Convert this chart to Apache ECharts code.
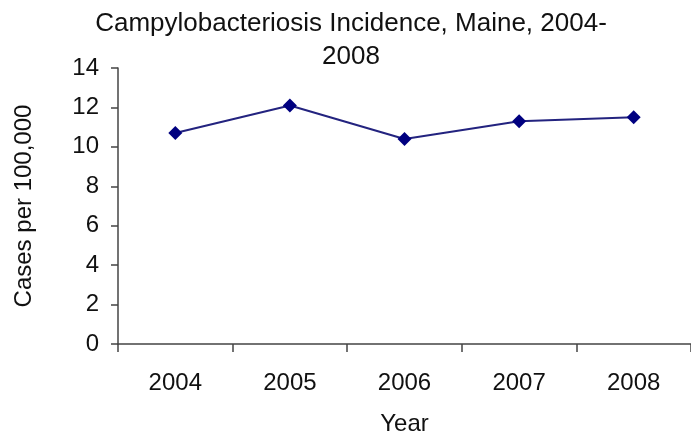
<!DOCTYPE html>
<html>
<head>
<meta charset="utf-8">
<script src="https://cdn.jsdelivr.net/npm/echarts@6/dist/echarts.min.js"></script>
<style>
html,body{margin:0;padding:0;background:#fff;}
#chart{width:691px;height:441px;}
</style>
</head>
<body>
<div id="chart"></div>
<script>
const titleText = 'Campylobacteriosis Incidence, Maine, 2004-\n2008';
const years = ['2004', '2005', '2006', '2007', '2008'];
const incidence = [10.7, 12.1, 10.4, 11.3, 11.5];
const yTicks = { min: 0, max: 14, interval: 2 };
const xName = 'Year';
const yName = 'Cases per 100,000';

const FONT = '"Liberation Sans", Arial, sans-serif';
const chart = echarts.init(document.getElementById('chart'), null, { renderer: 'canvas' });
chart.setOption({
  backgroundColor: '#ffffff',
  animation: false,
  title: {
    text: titleText,
    left: 346,
    top: 2,
    textAlign: 'center',
    textStyle: { fontFamily: FONT, fontSize: 26, fontWeight: 'normal', color: '#111', lineHeight: 33 }
  },
  grid: { left: 118, right: -9, top: 68, bottom: 90, containLabel: false },
  xAxis: {
    type: 'category',
    data: years,
    boundaryGap: true,
    name: xName,
    nameLocation: 'middle',
    nameGap: 68,
    nameTextStyle: { fontFamily: FONT, fontSize: 24, color: '#111' },
    axisLine: { show: true, lineStyle: { color: '#444', width: 1.5 } },
    axisTick: { show: true, length: 8, inside: false, lineStyle: { color: '#444', width: 1.5 } },
    axisLabel: { fontFamily: FONT, fontSize: 24, color: '#111', margin: 27 },
    splitLine: { show: false }
  },
  yAxis: {
    type: 'value',
    min: yTicks.min,
    max: yTicks.max,
    interval: yTicks.interval,
    name: yName,
    nameLocation: 'middle',
    nameGap: 82,
    nameRotate: 90,
    nameTextStyle: { fontFamily: FONT, fontSize: 24, color: '#111' },
    axisLine: { show: true, lineStyle: { color: '#444', width: 1.5 } },
    axisTick: { show: true, length: 7, lineStyle: { color: '#444', width: 1.5 } },
    axisLabel: { fontFamily: FONT, fontSize: 24, color: '#111', margin: 19 },
    splitLine: { show: false }
  },
  series: [{
    type: 'line',
    data: incidence,
    symbol: 'diamond',
    symbolSize: 14,
    itemStyle: { color: '#000080' },
    lineStyle: { color: '#23237f', width: 2 }
  }]
});
</script>
</body>
</html>
